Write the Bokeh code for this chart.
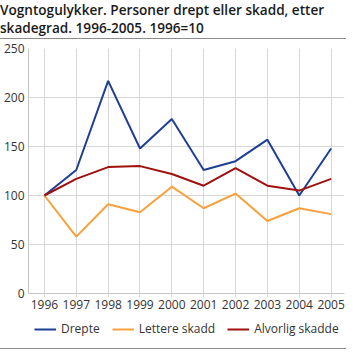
from bokeh.plotting import figure
from bokeh.models import Div, Legend, LegendItem, FixedTicker, Range1d
from bokeh.layouts import column
from bokeh.embed import file_html
from bokeh.resources import INLINE

title_lines = ["Vogntogulykker. Personer drept eller skadd, etter",
               "skadegrad. 1996-2005. 1996=10"]
years = [1996, 1997, 1998, 1999, 2000, 2001, 2002, 2003, 2004, 2005]
drepte = [100, 126, 217, 148, 178, 126, 135, 157, 100, 148]
lettere = [100, 58, 91, 83, 109, 87, 102, 74, 87, 81]
alvorlig = [100, 117, 129, 130, 122, 110, 128, 110, 105, 117]
y_ticks = [0, 50, 100, 150, 200, 250]
series_names = ["Drepte", "Lettere skadd", "Alvorlig skadde"]
colors = ["#1f3f93", "#f7a03c", "#a0100f"]
series = [drepte, lettere, alvorlig]

FONT = "Open Sans"

head = Div(
    text=('<div style="font-family:\'Open Sans\';font-size:13.6px;font-weight:600;'
          'color:#1a1a1a;line-height:18px;width:346px;padding:1px 0 1px 0;margin:0;'
          'white-space:nowrap;border-bottom:1px solid #8c8c8c;">'
          + "<br>".join(title_lines) + '</div>'),
    width=348, height=39, margin=(0, 0, 0, 0),
)

p = figure(width=348, height=276, output_backend="svg", toolbar_location=None,
           x_range=Range1d(1995.5, 2005.42), y_range=Range1d(0, 250),
           min_border_left=4, min_border_right=4, min_border_top=9,
           min_border_bottom=22, margin=(0, 0, 0, 0))
p.outline_line_color = None

for ys, c in zip(series, colors):
    p.line(years, ys, line_color=c, line_width=2)

for ax in (p.xaxis[0], p.yaxis[0]):
    ax.axis_line_color = "#c4c4c4"
    ax.major_tick_in = 0
    ax.minor_tick_line_color = None
    ax.major_label_text_font = FONT
    ax.major_label_text_font_size = "12px"
    ax.major_label_text_color = "#333333"
    ax.major_label_text_font_style = "normal"
p.xaxis.ticker = FixedTicker(ticks=years)
p.xaxis.major_tick_out = 4
p.xaxis.major_tick_line_color = "#d6d6d6"
p.xaxis.major_label_standoff = 2
p.yaxis.ticker = FixedTicker(ticks=y_ticks)
p.yaxis.major_tick_out = 0
p.yaxis.major_label_standoff = 4

p.xgrid.grid_line_color = "#d6d6d6"
p.ygrid.grid_line_color = "#d6d6d6"
p.xgrid.ticker = FixedTicker(ticks=years)
p.ygrid.ticker = FixedTicker(ticks=y_ticks)

# legend strip (same series, drawn outside its visible range so only the legend shows)
lg = figure(width=348, height=22, output_backend="svg", toolbar_location=None,
            x_range=Range1d(1995.5, 2005.42), y_range=Range1d(1000, 1001),
            min_border=0, margin=(0, 0, 0, 0))
lg.outline_line_color = None
lg.axis.visible = False
lg.grid.visible = False
leg_r = [lg.line(years, ys, line_color=c, line_width=2) for ys, c in zip(series, colors)]
legend = Legend(items=[LegendItem(label=n, renderers=[r]) for n, r in zip(series_names, leg_r)],
                orientation="horizontal", location=(6, 0),
                border_line_color=None, background_fill_alpha=0,
                label_text_font=FONT, label_text_font_size="12px",
                label_text_color="#333333", glyph_width=22, glyph_height=14,
                spacing=12, label_standoff=5, padding=2, margin=0)
lg.add_layout(legend, "center")

foot = Div(text='<div style="width:346px;height:0;border-top:1px solid #8c8c8c;margin-top:2px;"></div>',
           width=348, height=6, margin=(0, 0, 0, 0))

layout = column(head, p, lg, foot, spacing=0)

open("out.html", "w").write(file_html(layout, INLINE))
